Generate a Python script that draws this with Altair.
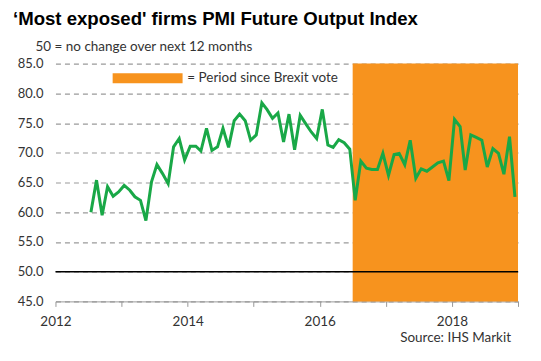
import altair as alt
import pandas as pd

# ---- data ----
first_month = "2012-07-01"
pmi = [60.0, 65.4, 59.5, 64.3, 62.7, 63.4, 64.5, 63.7, 62.6, 62.0,
       58.6, 65.1, 68.0, 66.5, 64.8, 71.0, 72.4, 68.8, 71.1, 71.1,
       70.3, 74.1, 70.4, 71.0, 74.1, 70.9, 75.4, 76.5, 75.4, 72.1,
       73.0, 78.4, 77.3, 75.8, 76.7, 71.8, 76.5, 70.5, 76.3, 74.9,
       73.5, 72.4, 77.3, 71.3, 70.9, 72.2, 71.7, 70.6, 62.0, 68.6,
       67.4, 67.2, 67.2, 69.9, 66.2, 69.7, 69.9, 68.0, 72.1, 65.7,
       67.3, 66.9, 67.6, 68.3, 68.6, 65.3, 75.6, 74.4, 67.1, 73.0,
       72.6, 72.1, 67.6, 70.7, 69.9, 66.4, 72.7, 62.6]
months = (pd.date_range(first_month, periods=len(pmi), freq="MS")
          + pd.Timedelta(days=14)).strftime("%Y-%m-%d").tolist()

brexit_start = ["2016-07-01"]
brexit_end = ["2019-01-01"]
legend_label = ["= Period since Brexit vote"]
reference_level = [50]
year_ticks = list(range(2012, 2020))
y_ticks = [45, 50, 55, 60, 65, 70, 75, 80, 85]
y_min, y_max = 45, 85

GREEN = "#19A847"
ORANGE = "#F7931E"
FONT = "Lato"

line_df = pd.DataFrame({"date": months, "pmi": pmi})
shade_df = pd.DataFrame({"start": brexit_start, "end": brexit_end,
                         "label": legend_label, "lo": [y_min], "hi": [y_max]})
ref_df = pd.DataFrame({"level": reference_level})

x_scale = alt.Scale(domain=[alt.DateTime(year=2012, month=1, date=1),
                            alt.DateTime(year=2019, month=1, date=1)], nice=False)
y_scale = alt.Scale(domain=[y_min, y_max], nice=False, zero=False)

x_axis = alt.Axis(
    values=[alt.DateTime(year=y, month=1, date=1) for y in year_ticks],
    labelExpr="year(datum.value) % 2 == 0 ? timeFormat(datum.value, '%Y') : ''",
    title="Source: IHS Markit", titleX=455.5, titleY=40.5, titleAlign="right",
    titleBaseline="alphabetic", titleFont=FONT, titleFontSize=13.5,
    titleFontWeight="normal", titleColor="#333333",
    labelFont=FONT, labelFontSize=13.5, labelColor="#333333", labelPadding=8.5,
    labelFlush=False, labelOverlap=False,
    tickSize=5, tickColor="#999999", domainColor="#999999", grid=False,
)
y_axis = alt.Axis(
    values=y_ticks, format=".1f",
    title="50 = no change over next 12 months", titleAngle=0, titleX=-20.5,
    titleY=-13.5, titleAlign="left", titleBaseline="alphabetic",
    titleFont=FONT, titleFontSize=13.5, titleFontWeight="normal",
    titleColor="#333333",
    labelFont=FONT, labelFontSize=13, labelColor="#333333", labelPadding=12.5,
    ticks=False, tickSize=0, domain=False,
    grid=True, gridDash=[5, 4], gridColor="#9a9a9a", gridWidth=1.2,
)

shade = alt.Chart(shade_df).mark_rect().encode(
    x=alt.X("start:T", scale=x_scale, axis=x_axis),
    x2="end:T",
    y=alt.Y("lo:Q", scale=y_scale, axis=y_axis),
    y2="hi:Q",
    color=alt.Color("label:N",
                    scale=alt.Scale(domain=legend_label, range=[ORANGE]),
                    legend=alt.Legend(
                        orient="none", legendX=55.5, legendY=8, title=None,
                        symbolType="M-1,-1 L13,-1 L13,1 L-1,1 Z",
                        symbolSize=100, symbolStrokeWidth=0,
                        labelOffset=63, labelFont=FONT, labelFontSize=13.5,
                        labelColor="#333333", padding=0)),
)

ref = alt.Chart(ref_df).mark_rule(color="black", strokeWidth=1.5).encode(
    y=alt.Y("level:Q", scale=y_scale, axis=y_axis),
)

line = alt.Chart(line_df).mark_line(color=GREEN, strokeWidth=3,
                                    strokeJoin="miter").encode(
    x=alt.X("date:T", scale=x_scale, axis=x_axis),
    y=alt.Y("pmi:Q", scale=y_scale, axis=y_axis),
)

chart = alt.layer(shade, ref, line).properties(
    width=463, height=238,
    autosize=alt.AutoSizeParams(type="none"),
    padding={"left": 47.5, "top": 55.5, "right": 15, "bottom": 50},
    title=alt.Title("‘Most exposed' firms PMI Future Output Index",
                    anchor="start", frame="group", dx=-42.5, dy=-7,
                    font="Liberation Sans", fontSize=18.6, fontWeight="bold",
                    color="black"),
).configure_view(stroke=None)

chart.save("out.html", embed_options={"renderer": "svg", "actions": False})
